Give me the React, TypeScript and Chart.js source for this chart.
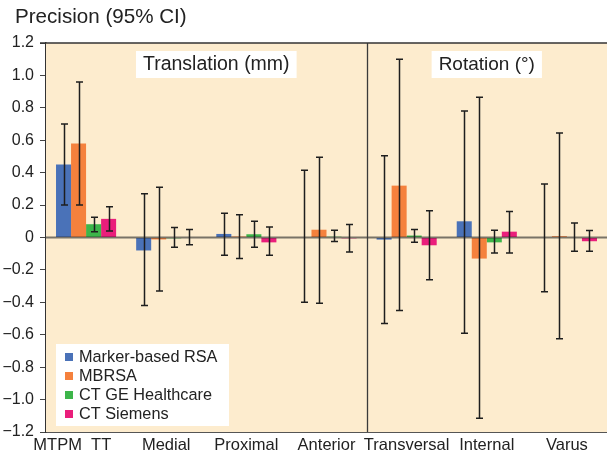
import React, { useEffect, useRef } from "react";
import { Chart, registerables } from "chart.js";

Chart.register(...registerables);

// ---------- data ----------
const categories = ["MTPM  TT      ", "Medial", "Proximal", "Anterior", "Transversal", "Internal", "Varus"];
const seriesNames = ["Marker-based RSA", "MBRSA", "CT GE Healthcare", "CT Siemens"];
const seriesColors = ["#4A72B8", "#F5813D", "#3DB54A", "#EA1E7B"];

const rsaValues = [0.45, -0.08, 0.022, 0.003, -0.013, 0.1, -0.003];
const rsaLow = [0.2, -0.42, -0.11, -0.4, -0.53, -0.59, -0.335];
const rsaHigh = [0.7, 0.27, 0.15, 0.415, 0.505, 0.78, 0.33];

const mbrsaValues = [0.58, -0.012, 0.006, 0.048, 0.32, -0.13, 0.008];
const mbrsaLow = [0.2, -0.33, -0.13, -0.405, -0.45, -1.115, -0.625];
const mbrsaHigh = [0.96, 0.31, 0.14, 0.495, 1.1, 0.865, 0.645];

const geValues = [0.082, -0.005, 0.02, 0.005, 0.012, -0.03, 0.003];
const geLow = [0.035, -0.06, -0.06, -0.025, -0.03, -0.095, -0.085];
const geHigh = [0.125, 0.062, 0.1, 0.045, 0.05, 0.045, 0.09];

const siemensValues = [0.115, 0.003, -0.03, -0.005, -0.048, 0.036, -0.023];
const siemensLow = [0.04, -0.045, -0.11, -0.09, -0.26, -0.095, -0.085];
const siemensHigh = [0.19, 0.05, 0.065, 0.08, 0.165, 0.16, 0.043];

const yMin = -1.2;
const yMax = 1.2;
const yStep = 0.2;

const chartTitle = "Precision (95% CI)";
const groupLabels = ["Translation (mm)", "Rotation (°)"];

const seriesValues = [rsaValues, mbrsaValues, geValues, siemensValues];
const seriesLow = [rsaLow, mbrsaLow, geLow, siemensLow];
const seriesHigh = [rsaHigh, mbrsaHigh, geHigh, siemensHigh];

const FONT = "'Liberation Sans', Arial, Helvetica, sans-serif";
const PLOT_BG = "#FDECCE";

function fmtTick(v: number): string {
  if (Math.abs(v) < 1e-9) return "0";
  const s = Math.abs(v).toFixed(1);
  return v < 0 ? "\u2212" + s : s;
}

const decorPlugin = {
  id: "decor",
  beforeDatasetsDraw(chart: any) {
    const { ctx, chartArea } = chart;
    ctx.save();
    ctx.fillStyle = PLOT_BG;
    ctx.fillRect(chartArea.left, chartArea.top, chartArea.right - chartArea.left, chartArea.bottom - chartArea.top);
    ctx.restore();
  },
  afterDatasetsDraw(chart: any) {
    const { ctx, chartArea } = chart;
    const xs = chart.scales.x;
    const ys = chart.scales.y;
    ctx.save();
    // zero line
    const y0 = ys.getPixelForValue(0);
    ctx.strokeStyle = "rgba(40,40,40,0.62)";
    ctx.lineWidth = 2;
    ctx.beginPath();
    ctx.moveTo(chartArea.left, y0);
    ctx.lineTo(chartArea.right, y0);
    ctx.stroke();

    // divider between translation and rotation
    const xd = Math.round((xs.getPixelForValue(3) + xs.getPixelForValue(4)) / 2) + 0.5;
    ctx.strokeStyle = "#3a3a3a";
    ctx.lineWidth = 1.3;
    ctx.beginPath();
    ctx.moveTo(xd, chartArea.top);
    ctx.lineTo(xd, chartArea.bottom);
    ctx.stroke();

    // top border
    ctx.strokeStyle = "#333";
    ctx.lineWidth = 1.5;
    ctx.beginPath();
    ctx.moveTo(chartArea.left - 6, chartArea.top);
    ctx.lineTo(chartArea.right, chartArea.top);
    ctx.stroke();

    // error bars
    ctx.strokeStyle = "#1e1e1e";
    ctx.lineWidth = 1.5;
    for (let d = 0; d < seriesValues.length; d++) {
      const meta = chart.getDatasetMeta(d);
      meta.data.forEach((el: any, i: number) => {
        const x = Math.round(el.x) + 0.5;
        const yl = ys.getPixelForValue(seriesLow[d][i]);
        const yh = ys.getPixelForValue(seriesHigh[d][i]);
        ctx.beginPath();
        ctx.moveTo(x, yl);
        ctx.lineTo(x, yh);
        ctx.moveTo(x - 3.5, yl);
        ctx.lineTo(x + 3.5, yl);
        ctx.moveTo(x - 3.5, yh);
        ctx.lineTo(x + 3.5, yh);
        ctx.stroke();
      });
    }

    // group labels in white boxes
    ctx.textBaseline = "middle";
    ctx.textAlign = "center";
    const boxes = [
      { text: groupLabels[0], size: 19.5, cx: (xs.getPixelForValue(1) + xs.getPixelForValue(2)) / 2 + 10 },
      { text: groupLabels[1], size: 19, cx: xs.getPixelForValue(5) },
    ];
    const boxTop = chartArea.top + 8;
    const boxH = 27;
    boxes.forEach((b) => {
      ctx.font = b.size + "px " + FONT;
      const w = ctx.measureText(b.text).width + 14;
      ctx.fillStyle = "#ffffff";
      ctx.fillRect(b.cx - w / 2, boxTop, w, boxH);
      ctx.fillStyle = "#222";
      ctx.fillText(b.text, b.cx, boxTop + boxH / 2 + 0.5);
    });

    // legend box
    const lx = chartArea.left + 10;
    const ly = chartArea.bottom - 88;
    ctx.fillStyle = "#ffffff";
    ctx.fillRect(lx, ly, 173, 82);
    ctx.font = "16.3px " + FONT;
    ctx.textAlign = "left";
    ctx.textBaseline = "middle";
    seriesNames.forEach((name, i) => {
      const cy = ly + 13 + i * 19;
      ctx.fillStyle = seriesColors[i];
      ctx.fillRect(lx + 9, cy - 4, 8, 8);
      ctx.fillStyle = "#222";
      ctx.fillText(name, lx + 23, cy + 0.5);
    });
    ctx.restore();
  },
  afterDraw(chart: any) {
    const { ctx } = chart;
    ctx.save();
    ctx.font = "20.6px " + FONT;
    ctx.fillStyle = "#222";
    ctx.textAlign = "left";
    ctx.textBaseline = "middle";
    ctx.fillText(chartTitle, 15, 17);
    ctx.restore();
  },
};

export default function App() {
  const ref = useRef<HTMLCanvasElement | null>(null);
  useEffect(() => {
    document.body.style.margin = "0";
    const canvas = ref.current;
    if (!canvas) return;
    const chart = new Chart(canvas, {
      type: "bar",
      data: {
        labels: categories,
        datasets: seriesNames.map((name, i) => ({
          label: name,
          data: seriesValues[i],
          backgroundColor: seriesColors[i],
          borderWidth: 0,
          categoryPercentage: 0.75,
          barPercentage: 1.0,
        })),
      },
      options: {
        animation: false,
        responsive: false,
        devicePixelRatio: 1,
        layout: { padding: { top: 43, right: 0, left: 0, bottom: 0 } },
        plugins: {
          legend: { display: false },
          title: { display: false },
          tooltip: { enabled: false },
        },
        scales: {
          x: {
            grid: { display: false, drawTicks: false },
            border: { display: true, color: "#555", width: 2 },
            ticks: {
              autoSkip: false,
              maxRotation: 0,
              minRotation: 0,
              padding: 4,
              color: "#222",
              font: { family: FONT, size: 16.5 },
            },
            afterFit: (s: any) => {
              s.height = 20;
            },
          },
          y: {
            min: yMin,
            max: yMax,
            ticks: {
              stepSize: yStep,
              padding: 6,
              color: "#222",
              font: { family: FONT, size: 16 },
              callback: (v: any) => fmtTick(Number(v)),
            },
            grid: { drawOnChartArea: false, drawTicks: true, tickLength: 6, color: "#444", lineWidth: 1 },
            border: { display: true, color: "#333", width: 1.5 },
            afterFit: (s: any) => {
              s.width = 46;
            },
          },
        },
      },
      plugins: [decorPlugin],
    });
    return () => chart.destroy();
  }, []);
  return (
    <div style={{ width: 607, height: 452, background: "#fff" }}>
      <canvas ref={ref} width={607} height={452} style={{ display: "block" }} />
    </div>
  );
}
